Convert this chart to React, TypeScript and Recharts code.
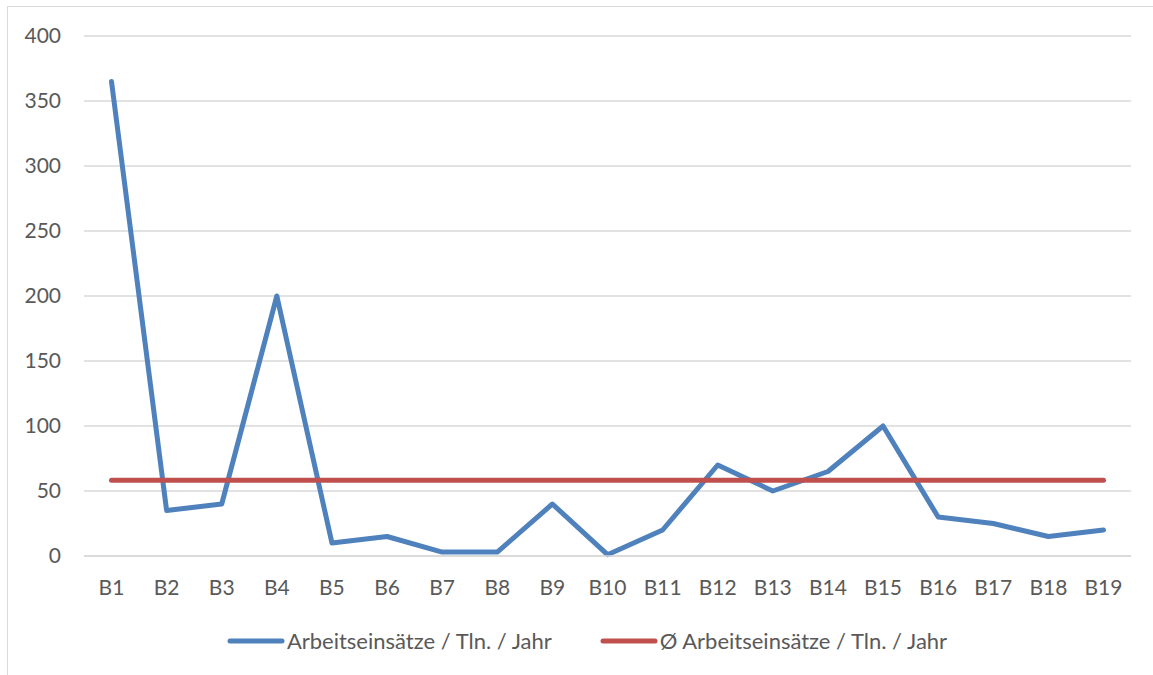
import React from "react";
import { LineChart, Line, XAxis, YAxis, CartesianGrid, Legend } from "recharts";

const categories = ["B1","B2","B3","B4","B5","B6","B7","B8","B9","B10","B11","B12","B13","B14","B15","B16","B17","B18","B19"];
const einsaetze = [365, 35, 40, 200, 10, 15, 3, 3, 40, 1, 20, 70, 50, 65, 100, 30, 25, 15, 20];
const durchschnitt = [58.3, 58.3, 58.3, 58.3, 58.3, 58.3, 58.3, 58.3, 58.3, 58.3, 58.3, 58.3, 58.3, 58.3, 58.3, 58.3, 58.3, 58.3, 58.3];
const yTicks = [0, 50, 100, 150, 200, 250, 300, 350, 400];

const SERIES_A = "Arbeitseinsätze / Tln. / Jahr";
const SERIES_B = "Ø Arbeitseinsätze / Tln. / Jahr";

const data = categories.map((c, i) => ({ name: c, a: einsaetze[i], b: durchschnitt[i] }));

const FONT = "Lato, 'Noto Sans', sans-serif";
const TEXT = "#595959";

const LegendContent = (props: any) => {
  const payload = props.payload || [];
  return (
    <div style={{ display: "flex", justifyContent: "center", alignItems: "center", gap: 48, paddingLeft: 21, height: 26, fontFamily: FONT, fontSize: 22, color: TEXT }}>
      {payload.map((p: any) => (
        <div key={p.value} style={{ display: "flex", alignItems: "center" }}>
          <svg width={58} height={10} style={{ marginRight: 2, marginTop: 2 }}>
            <line x1={3} y1={5} x2={55} y2={5} stroke={p.color} strokeWidth={5} strokeLinecap="round" />
          </svg>
          <span>{p.value}</span>
        </div>
      ))}
    </div>
  );
};

export default function App() {
  return (
    <div style={{ position: "fixed", left: 0, top: 0, width: 1153, height: 675, overflow: "hidden", background: "#fff" }}>
      <div style={{ position: "absolute", left: 7, top: 6, width: 1300, height: 800, border: "1px solid #d9d9d9" }} />
      <div style={{ position: "absolute", left: 0, top: 0 }}>
        <LineChart width={1153} height={675} data={data} margin={{ top: 36, right: 22, bottom: 53, left: 0 }}>
          <CartesianGrid vertical={false} stroke="#d9d9d9" strokeWidth={1.5} />
          <XAxis
            dataKey="name"
            padding={{ left: 27.5, right: 27.5 }}
            axisLine={{ stroke: "#d9d9d9", strokeWidth: 1.5 }}
            tickLine={false}
            tickSize={0}
            tickMargin={24}
            height={40}
            interval={0}
            tick={{ fill: TEXT, fontSize: 21, fontFamily: FONT }}
          />
          <YAxis
            domain={[0, 400]}
            ticks={yTicks}
            width={84}
            axisLine={false}
            tickLine={false}
            tickSize={0}
            tickMargin={23}
            interval={0}
            tick={{ fill: TEXT, fontSize: 21, fontFamily: FONT }}
          />
          <Legend
            verticalAlign="bottom"
            content={<LegendContent />}
            wrapperStyle={{ top: 627, left: 0, width: 1153, height: 26 }}
          />
          <Line type="linear" dataKey="a" name={SERIES_A} stroke="#4f81bd" strokeWidth={5} strokeLinecap="round" strokeLinejoin="round" dot={false} activeDot={false} isAnimationActive={false} />
          <Line type="linear" dataKey="b" name={SERIES_B} stroke="#c0504d" strokeWidth={5} strokeLinecap="round" strokeLinejoin="round" dot={false} activeDot={false} isAnimationActive={false} />
        </LineChart>
      </div>
    </div>
  );
}
